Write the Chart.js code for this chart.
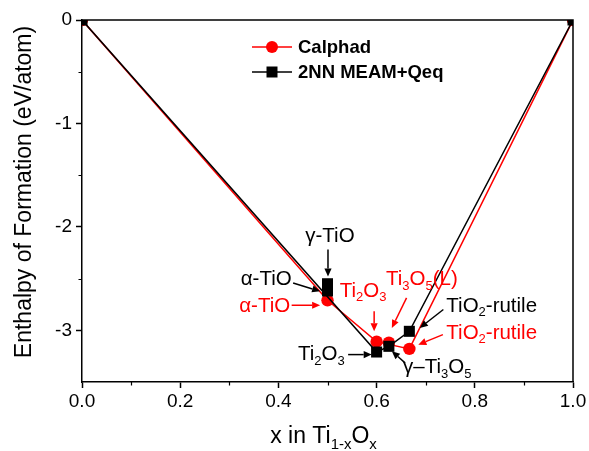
<!DOCTYPE html>
<html>
<head>
<meta charset="utf-8">
<script src="https://cdn.jsdelivr.net/npm/chart.js@4/dist/chart.umd.min.js"></script>
<style>
  html, body { margin: 0; padding: 0; background: #fff; }
  canvas { display: block; }
</style>
</head>
<body>
<canvas id="c" width="589" height="451"></canvas>
<script>
// Formation enthalpy of Ti–O compounds: Calphad vs. 2NN MEAM+Qeq
const calphadX = [0, 0.5, 0.6, 0.625, 0.6667, 1];
const calphadY = [0, -2.71, -3.11, -3.12, -3.18, 0];
const calphadHull = [0, 1, 2, 4, 5];      // points joined by the convex hull

const meamX = [0, 0.5, 0.5, 0.6, 0.625, 0.6667, 1];
const meamY = [0, -2.55, -2.62, -3.21, -3.155, -3.01, 0];
const meamHull = [0, 3, 4, 5, 6];

const seriesNames = ['Calphad', '2NN MEAM+Qeq'];

const xTicks = [0, 0.2, 0.4, 0.6, 0.8, 1.0];
const xMinor = [0.1, 0.3, 0.5, 0.7, 0.9];
const yTicks = [0, -1, -2, -3];
const yMinor = [-0.5, -1.5, -2.5];

const RED = '#ff0000';
const BLACK = '#000000';
const FONT = '"Liberation Sans", Arial, Helvetica, sans-serif';

// Phase labels: text with {subscripts}, anchor in data units, arrow from/to in data units
const phaseLabels = [
  { text: 'γ-TiO',        color: BLACK, x: 0.505, y: -2.09,  align: 'center', arrow: [0.501, -2.22, 0.501, -2.48] },
  { text: 'α-TiO',        color: BLACK, x: 0.427, y: -2.51,  align: 'right',  arrow: [0.430, -2.542, 0.485, -2.623] },
  { text: 'α-TiO',        color: RED,   x: 0.424, y: -2.768, align: 'right',  arrow: [0.427, -2.758, 0.485, -2.758] },
  { text: 'Ti{2}O{3}',    color: RED,   x: 0.525, y: -2.623, align: 'left',   arrow: [0.595, -2.816, 0.595, -3.01] },
  { text: 'Ti{3}O{5}(L)', color: RED,   x: 0.619, y: -2.51,  align: 'left',   arrow: [0.661, -2.687, 0.631, -2.977] },
  { text: 'TiO{2}-rutile',color: BLACK, x: 0.742, y: -2.768, align: 'left',   arrow: [0.736, -2.799, 0.688, -2.977] },
  { text: 'TiO{2}-rutile',color: RED,   x: 0.742, y: -3.025, align: 'left',   arrow: [0.735, -3.042, 0.685, -3.139] },
  { text: 'Ti{2}O{3}',    color: BLACK, x: 0.440, y: -3.235, align: 'left',   arrow: [0.542, -3.235, 0.590, -3.235] },
  { text: 'γ–Ti{3}O{5}',  color: BLACK, x: 0.654, y: -3.361, align: 'left',   arrow: [0.658, -3.315, 0.631, -3.203] }
];

function points(xs, ys, idx) {
  const list = idx || xs.map((_, i) => i);
  return list.map(i => ({ x: xs[i], y: ys[i] }));
}

function parseRich(s) {
  const parts = [];
  const re = /\{([^}]*)\}|[^{]+/g;
  let m;
  while ((m = re.exec(s)) !== null) {
    if (m[1] !== undefined) parts.push({ t: m[1], sub: true });
    else parts.push({ t: m[0], sub: false });
  }
  return parts;
}

function drawRich(ctx, s, x, y, align, size, color, weight) {
  const parts = parseRich(s);
  const subSize = Math.round(size * 0.65);
  const w8 = weight ? weight + ' ' : '';
  const mainFont = w8 + size + 'px ' + FONT;
  const subFont = w8 + subSize + 'px ' + FONT;
  let total = 0;
  parts.forEach(p => { ctx.font = p.sub ? subFont : mainFont; total += ctx.measureText(p.t).width; });
  let cx = align === 'right' ? x - total : align === 'center' ? x - total / 2 : x;
  ctx.fillStyle = color;
  ctx.textAlign = 'left';
  ctx.textBaseline = 'middle';
  parts.forEach(p => {
    ctx.font = p.sub ? subFont : mainFont;
    ctx.fillText(p.t, cx, p.sub ? y + size * 0.32 : y);
    cx += ctx.measureText(p.t).width;
  });
}

function drawArrow(ctx, x0, y0, x1, y1, color) {
  const ang = Math.atan2(y1 - y0, x1 - x0);
  const head = 8, half = 3.6;
  const bx = x1 - head * Math.cos(ang), by = y1 - head * Math.sin(ang);
  ctx.strokeStyle = color;
  ctx.fillStyle = color;
  ctx.lineWidth = 1.5;
  ctx.beginPath();
  ctx.moveTo(x0, y0);
  ctx.lineTo(bx, by);
  ctx.stroke();
  ctx.beginPath();
  ctx.moveTo(x1, y1);
  ctx.lineTo(bx - half * Math.sin(ang), by + half * Math.cos(ang));
  ctx.lineTo(bx + half * Math.sin(ang), by - half * Math.cos(ang));
  ctx.closePath();
  ctx.fill();
}

const decor = {
  id: 'decor',
  afterDraw(chart) {
    const ctx = chart.ctx;
    const { left, right, top, bottom } = chart.chartArea;
    const xs = chart.scales.x, ys = chart.scales.y;
    ctx.save();

    // frame on top and right
    ctx.strokeStyle = BLACK;
    ctx.lineWidth = 1.5;
    ctx.beginPath();
    ctx.moveTo(left, top);
    ctx.lineTo(right, top);
    ctx.lineTo(right, bottom);
    ctx.stroke();

    // minor ticks
    ctx.lineWidth = 1.2;
    ctx.beginPath();
    xMinor.forEach(v => {
      const px = Math.round(xs.getPixelForValue(v)) + 0.5;
      ctx.moveTo(px, bottom);
      ctx.lineTo(px, bottom + 3.5);
    });
    yMinor.forEach(v => {
      const py = Math.round(ys.getPixelForValue(v)) + 0.5;
      ctx.moveTo(left, py);
      ctx.lineTo(left - 3.5, py);
    });
    ctx.stroke();

    // axis titles
    drawRich(ctx, 'x in Ti{1-x}O{x}', (left + right) / 2 - 4, 437, 'center', 23, BLACK);
    ctx.save();
    ctx.translate(25, 192);
    ctx.rotate(-Math.PI / 2);
    drawRich(ctx, 'Enthalpy of Formation (eV/atom)', 0, 0, 'center', 23, BLACK);
    ctx.restore();

    // phase labels with arrows
    phaseLabels.forEach(l => {
      drawRich(ctx, l.text, xs.getPixelForValue(l.x), ys.getPixelForValue(l.y), l.align, 20.5, l.color);
      const a = l.arrow;
      drawArrow(ctx, xs.getPixelForValue(a[0]), ys.getPixelForValue(a[1]),
                xs.getPixelForValue(a[2]), ys.getPixelForValue(a[3]), l.color);
    });

    // legend
    const lx = left + 170, ly = top + 27, gap = 25;
    const rows = [
      { name: seriesNames[0], color: RED, style: 'circle' },
      { name: seriesNames[1], color: BLACK, style: 'rect' }
    ];
    rows.forEach((r, i) => {
      const y = ly + i * gap;
      ctx.strokeStyle = r.color;
      ctx.fillStyle = r.color;
      ctx.lineWidth = 1.5;
      ctx.beginPath();
      ctx.moveTo(lx, y);
      ctx.lineTo(lx + 40, y);
      ctx.stroke();
      ctx.beginPath();
      if (r.style === 'circle') ctx.arc(lx + 20, y, 6, 0, Math.PI * 2);
      else ctx.rect(lx + 20 - 5.5, y - 5.5, 11, 11);
      ctx.fill();
      ctx.fillStyle = BLACK;
      ctx.font = 'bold 18.5px ' + FONT;
      ctx.textAlign = 'left';
      ctx.textBaseline = 'middle';
      ctx.fillText(r.name, lx + 46, y + 1);
    });

    ctx.restore();
  }
};

new Chart(document.getElementById('c'), {
  type: 'scatter',
  data: {
    datasets: [
      {
        label: seriesNames[1] + ' points',
        data: points(meamX, meamY),
        pointStyle: 'rect',
        pointRadius: 7.8,
        pointHoverRadius: 7.8,
        backgroundColor: BLACK,
        borderColor: BLACK,
        borderWidth: 0,
        showLine: false,
        clip: 0,
        order: 0
      },
      {
        type: 'line',
        label: seriesNames[1],
        data: points(meamX, meamY, meamHull),
        borderColor: BLACK,
        borderWidth: 1.5,
        pointRadius: 0,
        fill: false,
        tension: 0,
        clip: 0,
        order: 1
      },
      {
        label: seriesNames[0] + ' points',
        data: points(calphadX, calphadY),
        pointStyle: 'circle',
        pointRadius: 6.2,
        pointHoverRadius: 6.2,
        backgroundColor: RED,
        borderColor: RED,
        borderWidth: 0,
        showLine: false,
        clip: 0,
        order: 2
      },
      {
        type: 'line',
        label: seriesNames[0],
        data: points(calphadX, calphadY, calphadHull),
        borderColor: RED,
        borderWidth: 1.5,
        pointRadius: 0,
        fill: false,
        tension: 0,
        clip: 0,
        order: 3
      }
    ]
  },
  options: {
    responsive: false,
    devicePixelRatio: 1,
    animation: false,
    events: [],
    layout: { padding: { top: 20, right: 16, left: 0, bottom: 0 } },
    plugins: { legend: { display: false }, tooltip: { enabled: false }, title: { display: false } },
    scales: {
      x: {
        type: 'linear',
        min: 0,
        max: 1,
        afterBuildTicks: s => { s.ticks = xTicks.map(v => ({ value: v })); },
        afterFit: s => { s.height = 69; },
        ticks: {
          autoSkip: false,
          maxRotation: 0,
          color: BLACK,
          font: { family: FONT, size: 19 },
          padding: 2,
          callback: v => Number(v).toFixed(1)
        },
        grid: { drawOnChartArea: false, drawTicks: true, tickLength: 6, tickColor: BLACK, tickWidth: 1.5 },
        border: { display: true, color: BLACK, width: 1.5 },
        title: { display: false }
      },
      y: {
        type: 'linear',
        min: -3.5,
        max: 0,
        afterBuildTicks: s => { s.ticks = yTicks.map(v => ({ value: v })); },
        afterFit: s => { s.width = 82; },
        ticks: {
          autoSkip: false,
          color: BLACK,
          font: { family: FONT, size: 19 },
          padding: 4,
          callback: v => String(v)
        },
        grid: { drawOnChartArea: false, drawTicks: true, tickLength: 6, tickColor: BLACK, tickWidth: 1.5 },
        border: { display: true, color: BLACK, width: 1.5 },
        title: { display: false }
      }
    }
  },
  plugins: [decor]
});
</script>
</body>
</html>
